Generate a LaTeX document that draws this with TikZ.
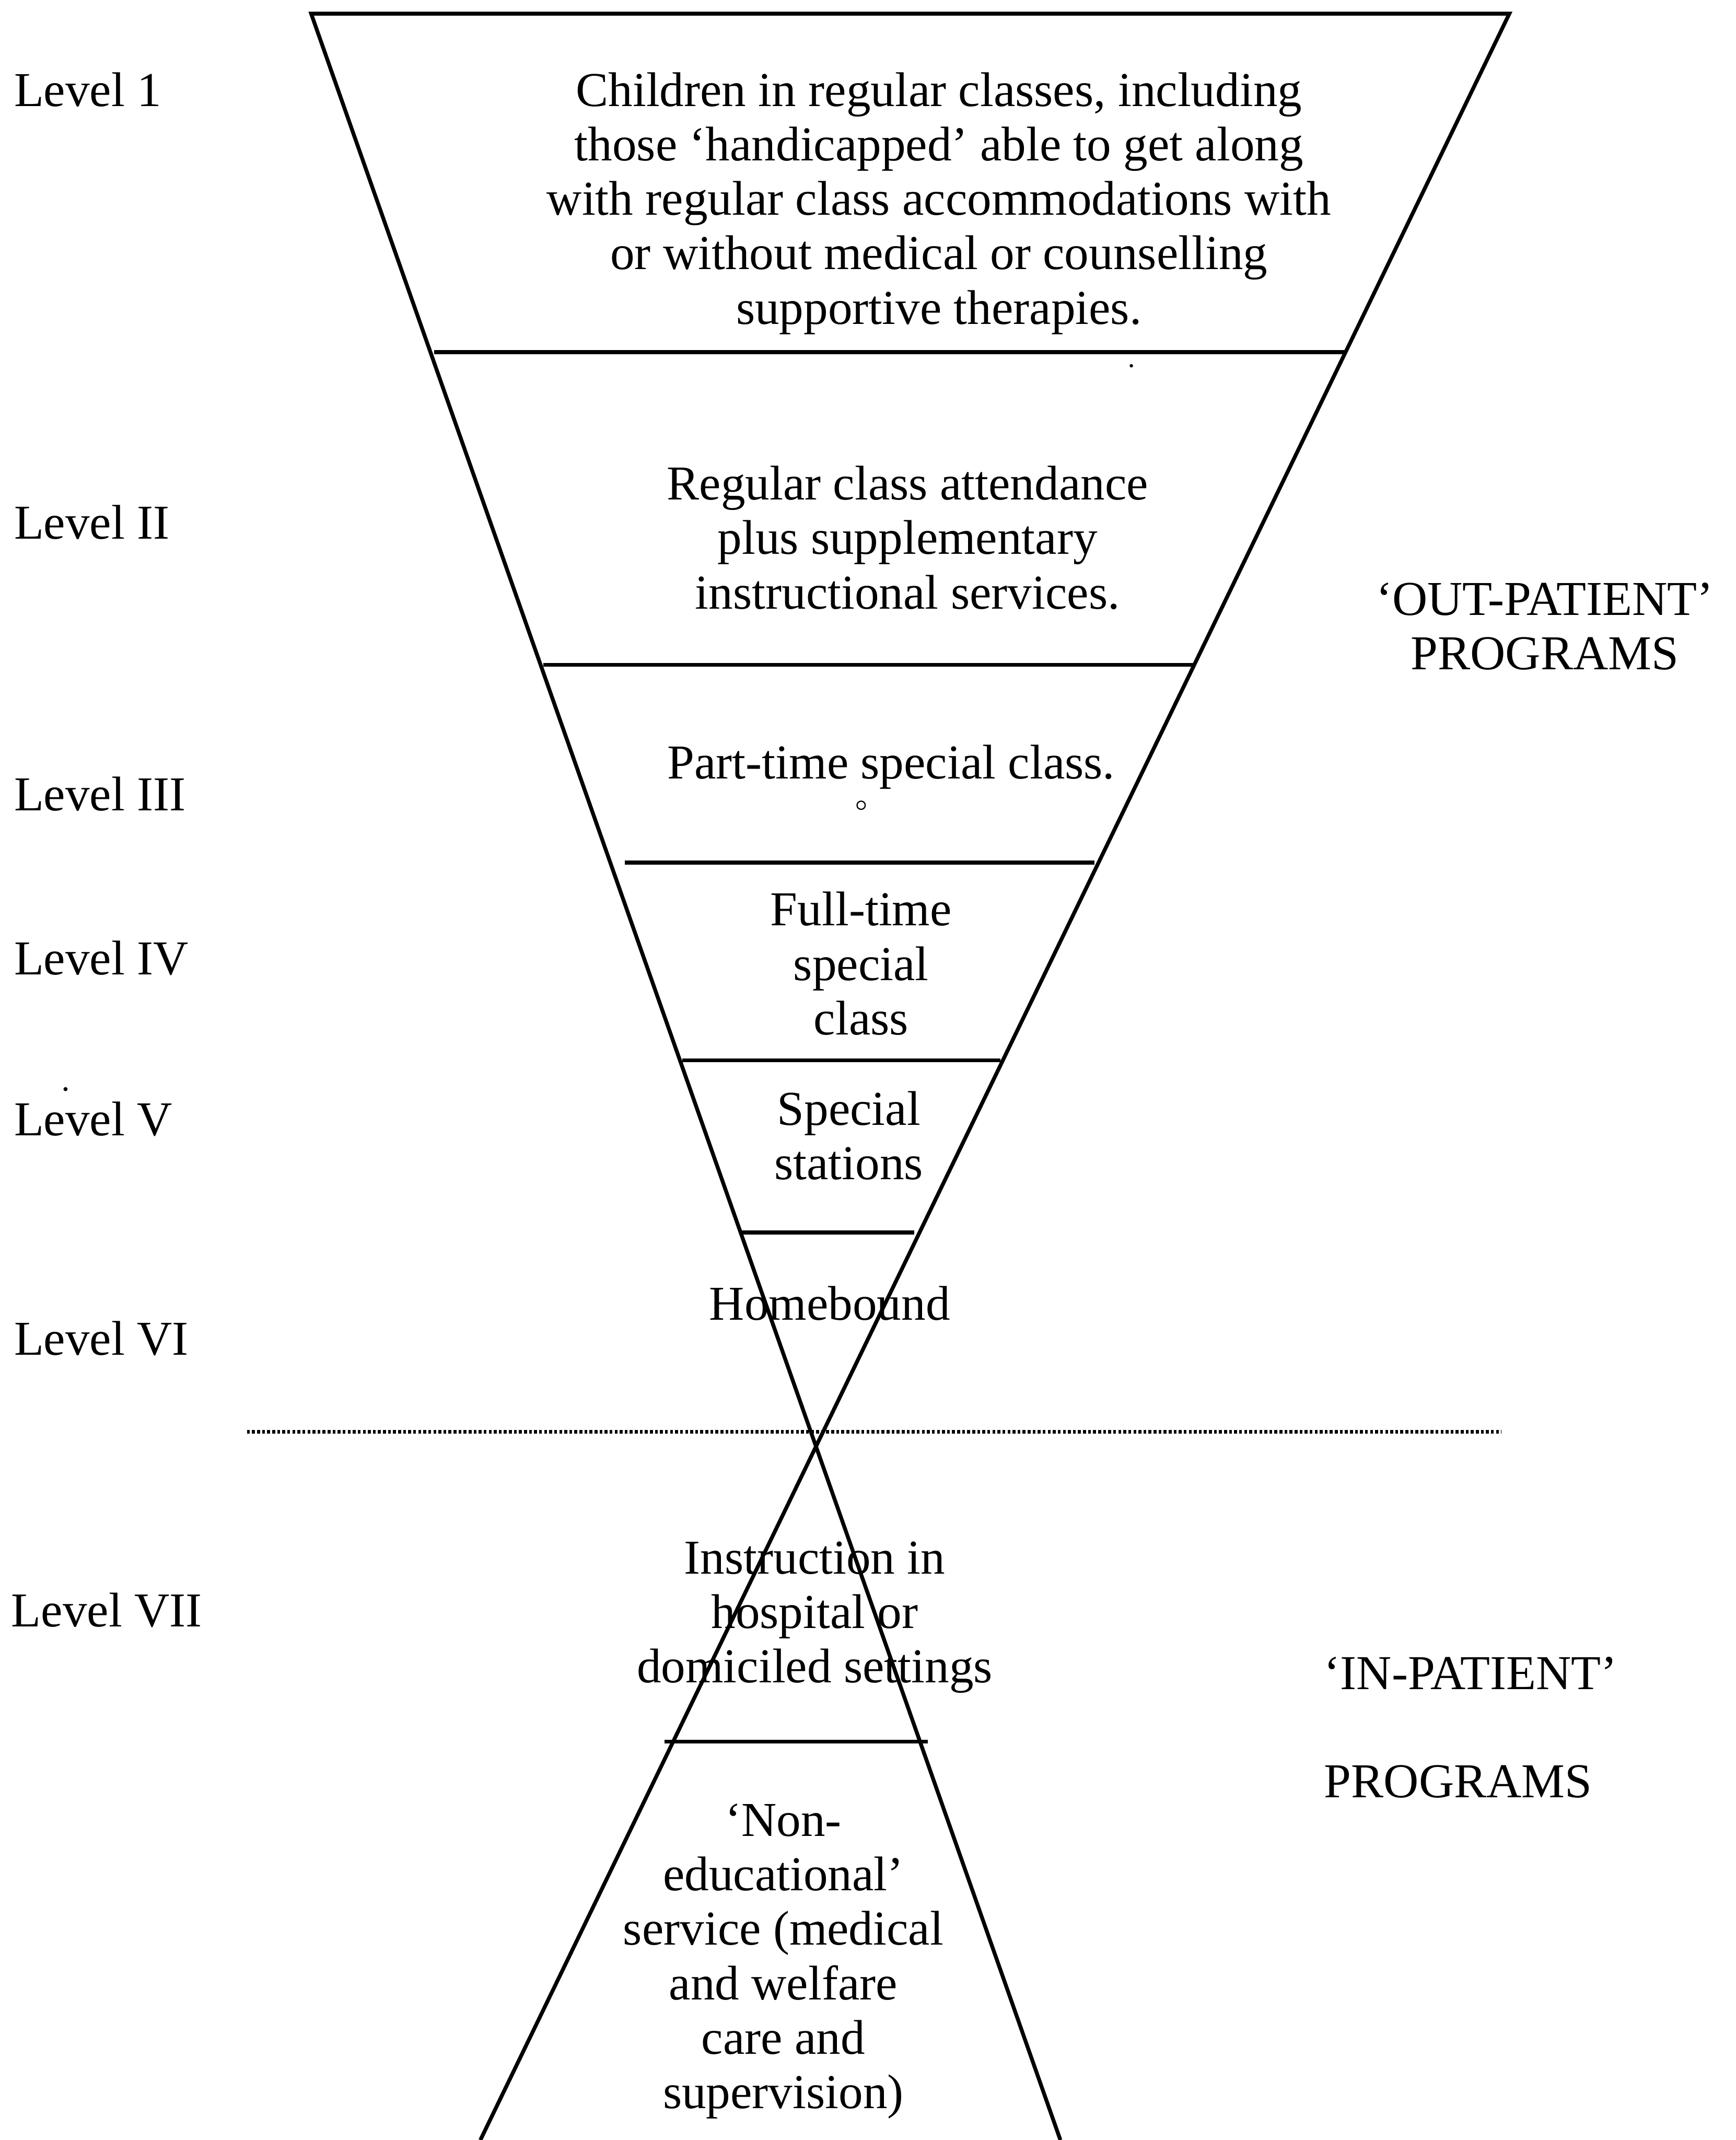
\documentclass[tikz,border=0pt]{standalone}
\usepackage{fontspec}
\setmainfont{Liberation Serif}
\begin{document}
\begin{tikzpicture}[x=0.2mm,y=-0.2mm,
  every node/.style={inner sep=0pt,font=\fontsize{20.3pt}{22.7pt}\selectfont},
  blocktext/.style={align=center},
  levellabel/.style={anchor=base west},
  outline/.style={line width=1.6pt,line join=miter},
  rung/.style={line width=1.6pt},
  divider/.style={line width=1.6pt,dash pattern=on 1.2pt off 0.9pt},
  speck/.style={fill=black}]
\useasboundingbox (0,0) rectangle (1272,1568);

% outline of the two funnels
\coordinate (TL) at (228,10);
\coordinate (TR) at (1106,10);
\coordinate (BL) at (352,1568);
\coordinate (BR) at (777,1568);
\draw[outline] (BR) -- (TL) -- (TR) -- (BL);

% rungs
\coordinate (r1a) at (318,258);  \coordinate (r1b) at (985,258);
\coordinate (r2a) at (398,487);  \coordinate (r2b) at (875,487);
\coordinate (r3a) at (458,632);  \coordinate (r3b) at (802,632);
\coordinate (r4a) at (500,777);  \coordinate (r4b) at (733,777);
\coordinate (r5a) at (543,903);  \coordinate (r5b) at (670,903);
\coordinate (r6a) at (487,1276); \coordinate (r6b) at (680,1276);
\draw[rung] (r1a) -- (r1b);
\draw[rung] (r2a) -- (r2b);
\draw[rung] (r3a) -- (r3b);
\draw[rung] (r4a) -- (r4b);
\draw[rung] (r5a) -- (r5b);
\draw[rung] (r6a) -- (r6b);

% dotted divider
\coordinate (d1) at (181,1049);
\coordinate (d2) at (1100,1049);
\draw[divider] (d1) -- (d2);

% level labels
\node[levellabel] (L1) at (10,78) {Level 1};
\node[levellabel] (L2) at (10,395) {Level II};
\node[levellabel] (L3) at (10,594) {Level III};
\node[levellabel] (L4) at (10,714) {Level IV};
\node[levellabel] (L5) at (10,832) {Level V};
\node[levellabel] (L6) at (10,993) {Level VI};
\node[levellabel] (L7) at (8,1192) {Level VII};

% contents
\node[blocktext] (t1) at (688,149) {Children in regular classes, including\\those ‘handicapped’ able to get along\\with regular class accommodations with\\or without medical or counselling\\supportive therapies.};
\node[blocktext] (t2) at (665,394) {Regular class attendance\\plus supplementary\\instructional services.};
\node[blocktext] (t3) at (653,562) {Part-time special class.};
\node[blocktext] (t4) at (631,706) {Full-time\\special\\class};
\node[blocktext] (t5) at (622,832) {Special\\stations};
\node[blocktext] (t6) at (608,955) {Homebound};
\node[blocktext] (t7) at (597,1185) {Instruction in\\hospital or\\domiciled settings};
\node[blocktext] (t8) at (574,1437) {‘Non-\\educational’\\service (medical\\and welfare\\care and\\supervision)};

% side labels
\node[blocktext] (out) at (1132,459) {‘OUT-PATIENT’\\PROGRAMS};
\node[levellabel] (in1) at (970,1238) {‘IN-PATIENT’};
\node[levellabel] (in2) at (970,1317) {PROGRAMS};

% small marks of the original
\draw[line width=0.5pt] (631,590) circle[radius=0.6mm];
\fill[speck] (829,268) circle[radius=0.25mm];
\fill[speck] (48,798) circle[radius=0.3mm];
\end{tikzpicture}
\end{document}
